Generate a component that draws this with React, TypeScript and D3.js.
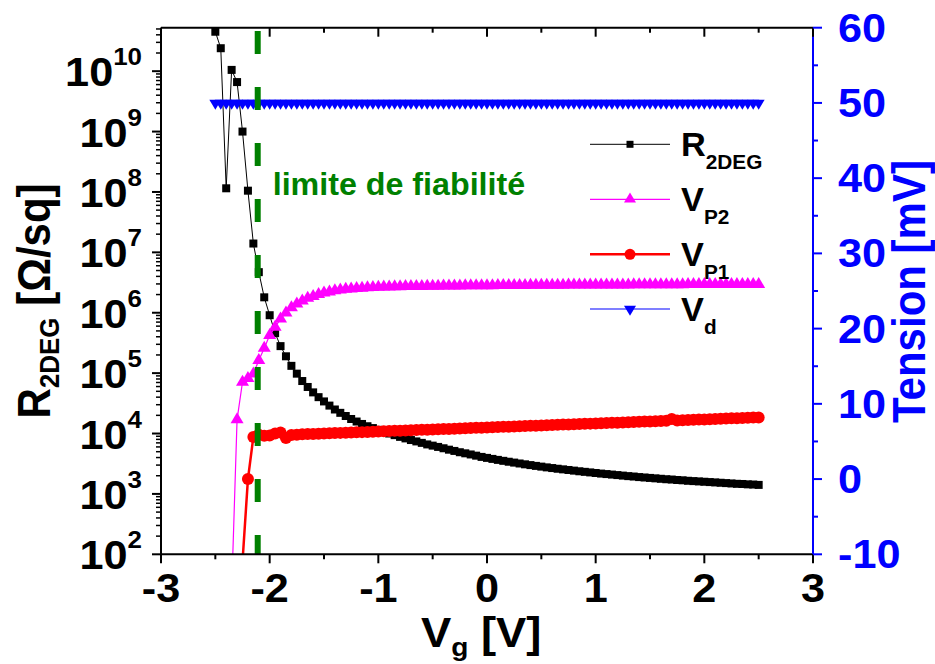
import React from 'react';
import * as d3 from 'd3';

// ---------------- DATA ----------------
const VG = [-2.5, -2.45, -2.4, -2.35, -2.3, -2.25, -2.2, -2.15, -2.1, -2.05, -2, -1.95, -1.9, -1.85, -1.8, -1.75, -1.7, -1.65, -1.6, -1.55, -1.5, -1.45, -1.4, -1.35, -1.3, -1.25, -1.2, -1.15, -1.1, -1.05, -1, -0.95, -0.9, -0.85, -0.8, -0.75, -0.7, -0.65, -0.6, -0.55, -0.5, -0.45, -0.4, -0.35, -0.3, -0.25, -0.2, -0.15, -0.1, -0.05, 0, 0.05, 0.1, 0.15, 0.2, 0.25, 0.3, 0.35, 0.4, 0.45, 0.5, 0.55, 0.6, 0.65, 0.7, 0.75, 0.8, 0.85, 0.9, 0.95, 1, 1.05, 1.1, 1.15, 1.2, 1.25, 1.3, 1.35, 1.4, 1.45, 1.5, 1.55, 1.6, 1.65, 1.7, 1.75, 1.8, 1.85, 1.9, 1.95, 2, 2.05, 2.1, 2.15, 2.2, 2.25, 2.3, 2.35, 2.4, 2.45, 2.5];

const R2DEG = [4.5e10, 2.4e10, 1.15e8, 1.05e10, 6.6e9, 1.0e9, 1.05e8, 1.4e7, 4.7e6, 1.8e6, 9.1e5, 4.6e5, 2.8e5, 1.9e5, 1.32e5, 9.8e4, 7.4e4, 5.9e4, 4.8e4, 4.0e4, 3.4e4, 2.9e4, 2.5e4, 2.2e4, 1.95e4, 1.74e4, 1.58e4, 1.44e4, 1.32e4, 1.23e4, 1.15e4, 1.07e4, 1.0e4, 9.4e3, 8.8e3, 8.3e3, 7.8e3, 7.4e3, 7.0e3, 6.6e3, 6.3e3, 6.0e3, 5.7e3, 5.4e3, 5.15e3, 4.9e3, 4.7e3, 4.5e3, 4.3e3, 4.1e3, 3.95e3, 3.8e3, 3.66e3, 3.53e3, 3.41e3, 3.3e3, 3.19e3, 3.09e3, 3.0e3, 2.91e3, 2.83e3, 2.75e3, 2.68e3, 2.61e3, 2.55e3, 2.49e3, 2.43e3, 2.37e3, 2.32e3, 2.27e3, 2.22e3, 2.17e3, 2.13e3, 2.09e3, 2.05e3, 2.01e3, 1.97e3, 1.94e3, 1.9e3, 1.87e3, 1.84e3, 1.81e3, 1.78e3, 1.75e3, 1.73e3, 1.7e3, 1.68e3, 1.65e3, 1.63e3, 1.61e3, 1.59e3, 1.57e3, 1.55e3, 1.53e3, 1.51e3, 1.49e3, 1.47e3, 1.46e3, 1.44e3, 1.43e3, 1.41e3];

const VP2 = [null, null, null, -15, 7.9, 12.9, 13.4, 14.0, 15.8, 17.4, 19.1, 20.2, 21.3, 22.1, 22.8, 23.3, 23.7, 24.05, 24.3, 24.55, 24.75, 24.9, 25.05, 25.15, 25.25, 25.3, 25.35, 25.4, 25.45, 25.5, 25.52,
  25.55, 25.57, 25.58, 25.6, 25.61, 25.62, 25.63, 25.64, 25.65, 25.66, 25.67, 25.68, 25.69, 25.7, 25.7, 25.71, 25.72, 25.72, 25.73,
  25.74, 25.74, 25.75, 25.75, 25.76, 25.76, 25.77, 25.77, 25.78, 25.78, 25.79, 25.79, 25.8, 25.8, 25.8, 25.81, 25.81, 25.81, 25.82, 25.82, 25.82, 25.83, 25.83, 25.83, 25.84, 25.84, 25.84, 25.85, 25.85, 25.85, 25.86,
  25.86, 25.86, 25.87, 25.87, 25.87, 25.87, 25.88, 25.88, 25.88, 25.88, 25.89, 25.89, 25.89, 25.89, 25.9, 25.9, 25.9, 25.9, 25.9, 25.9];

const VP1 = [null, null, null, null, null, -11, 0.0, 5.6, 5.9, 5.75, 5.8, 6.05, 6.2, 5.45, 5.85, 5.9, 5.95,
  5.98, 6.00, 6.03, 6.06, 6.08, 6.11, 6.14, 6.16, 6.19, 6.22,
  6.24, 6.27, 6.30, 6.33, 6.35, 6.38, 6.41, 6.43, 6.46, 6.49,
  6.51, 6.54, 6.57, 6.59, 6.62, 6.65, 6.67, 6.70, 6.73, 6.75,
  6.78, 6.81, 6.83, 6.86, 6.89, 6.91, 6.94, 6.97, 6.99, 7.02,
  7.05, 7.08, 7.10, 7.13, 7.16, 7.18, 7.21, 7.24, 7.26, 7.29,
  7.32, 7.34, 7.37, 7.40, 7.42, 7.45, 7.48, 7.50, 7.53, 7.56,
  7.58, 7.61, 7.64, 7.66, 7.69, 7.72, 7.74, 7.97, 7.80, 7.83,
  7.85, 7.88, 7.91, 7.93, 7.96, 7.99, 8.01, 8.04, 8.07, 8.09,
  8.12, 8.15, 8.17, 8.20];

const VD = [50, 50, 50, 50, 50, 50, 50, 50, 50, 50, 50, 50, 50, 50, 50, 50, 50, 50, 50, 50, 50, 50, 50, 50, 50, 50, 50, 50, 50, 50, 50, 50, 50, 50, 50, 50, 50, 50, 50, 50, 50, 50, 50, 50, 50, 50, 50, 50, 50, 50, 50, 50, 50, 50, 50, 50, 50, 50, 50, 50, 50, 50, 50, 50, 50, 50, 50, 50, 50, 50, 50, 50, 50, 50, 50, 50, 50, 50, 50, 50, 50, 50, 50, 50, 50, 50, 50, 50, 50, 50, 50, 50, 50, 50, 50, 50, 50, 50, 50, 50, 50];

const X_TICKS = [-3, -2, -1, 0, 1, 2, 3];
const X_MINOR = [-2.5, -1.5, -0.5, 0.5, 1.5, 2.5];
const LEFT_EXP = [2, 3, 4, 5, 6, 7, 8, 9, 10];
const RIGHT_TICKS = [-10, 0, 10, 20, 30, 40, 50, 60];
const RIGHT_MINOR = [-5, 5, 15, 25, 35, 45, 55];
const LIMIT_X = -2.11;
const LIMIT_LABEL = 'limite de fiabilité';
const LEGEND_MAIN = ['R', 'V', 'V', 'V'];
const LEGEND_SUB = ['2DEG', 'P2', 'P1', 'd'];

// ---------------- LAYOUT ----------------
const W = 935, H = 664;
const L = 161, R = 813, TOP = 27.7, BOT = 554.3;
const SX = 1.08;
const FONT = 'Liberation Sans, Arial, sans-serif';

const x = d3.scaleLinear().domain([-3, 3]).range([L, R]);
const yL = d3.scaleLog().domain([1e2, Math.pow(10, 10.72)]).range([BOT, TOP]);
const yR = d3.scaleLinear().domain([-10, 60]).range([BOT, TOP]);

const MAGENTA = '#ff00ff';
const RED = '#ff0000';
const BLUE = '#0000ff';
const GREEN = '#008000';

type TP = { x: number; y: number; size: number; fill?: string; anchor?: string; rot?: boolean; sx?: number; children?: any };
function T({ x, y, size, fill = '#000', anchor = 'start', rot = false, sx = SX, children }: TP) {
  return (
    <text
      transform={`translate(${x},${y}) scale(${sx},1)${rot ? ' rotate(-90)' : ''}`}
      fontSize={size}
      fill={fill}
      textAnchor={anchor as any}
      fontWeight="bold"
      fontFamily={FONT}
    >
      {children}
    </text>
  );
}

const upTri = 'M0,-7.3L6.5,3.7L-6.5,3.7Z';
const downTri = 'M-6,-3.3L6,-3.3L0,6.7Z';
const legUpTri = 'M0,-6.7L6,3.3L-6,3.3Z';

export default function App() {
  const pts = (ys: (number | null)[], sc: any) =>
    VG.map((v, i) => [v, ys[i]] as [number, number | null]).filter((d) => d[1] != null).map((d) => [x(d[0]), sc(d[1])] as [number, number]);

  const line = d3.line<[number, number]>().x((d) => d[0]).y((d) => d[1]);

  const rPts = pts(R2DEG, yL);
  const p2Pts = pts(VP2, yR);
  const p1Pts = pts(VP1, yR);
  const dPts = pts(VD, yR);

  const leftMinor: number[] = [];
  LEFT_EXP.forEach((e) => {
    for (let m = 2; m <= 9; m++) {
      const v = m * Math.pow(10, e);
      if (v <= yL.domain()[1]) leftMinor.push(v);
    }
  });

  const legendRows = [144.3, 199.3, 254.3, 309];

  return (
    <svg width={W} height={H} style={{ position: 'absolute', left: 0, top: 0, background: '#fff' }}>
      <defs>
        <clipPath id="plot">
          <rect x={L} y={TOP - 10} width={R - L} height={BOT - TOP + 10} />
        </clipPath>
      </defs>
      <rect x={0} y={0} width={W} height={H} fill="#fff" />

      <g clipPath="url(#plot)">
        {/* R2DEG */}
        <path d={line(rPts) || ''} fill="none" stroke="#000" strokeWidth={1} />
        {rPts.map((p, i) => (
          <rect key={'r' + i} x={p[0] - 4} y={p[1] - 4} width={8} height={8} fill="#000" />
        ))}
        {/* VP2 */}
        <path d={line(p2Pts) || ''} fill="none" stroke={MAGENTA} strokeWidth={1.2} />
        {p2Pts.map((p, i) => (
          <path key={'p2' + i} d={upTri} transform={`translate(${p[0]},${p[1]})`} fill={MAGENTA} />
        ))}
        {/* VP1 */}
        <path d={line(p1Pts) || ''} fill="none" stroke={RED} strokeWidth={2.5} />
        {p1Pts.map((p, i) => (
          <circle key={'p1' + i} cx={p[0]} cy={p[1]} r={6} fill={RED} />
        ))}
        {/* Vd */}
        <path d={line(dPts) || ''} fill="none" stroke={BLUE} strokeWidth={1.2} />
        {dPts.map((p, i) => (
          <path key={'d' + i} d={downTri} transform={`translate(${p[0]},${p[1]})`} fill={BLUE} />
        ))}
        {/* limit line */}
        <line x1={x(LIMIT_X)} x2={x(LIMIT_X)} y1={TOP} y2={BOT} stroke={GREEN} strokeWidth={6} strokeDasharray="23 33" strokeDashoffset={52.7} />
      </g>

      <T x={272.7} y={195} size={31} fill={GREEN} sx={1.04}>{LIMIT_LABEL}</T>

      {/* Legend */}
      {legendRows.map((ly, i) => {
        const col = ['#000', MAGENTA, RED, BLUE][i];
        const lw = [1, 1.2, 2.5, 1.2][i];
        return (
          <g key={'lg' + i}>
            <line x1={590} x2={670} y1={ly} y2={ly} stroke={col} strokeWidth={lw} />
            {i === 0 && <rect x={630 - 3.5} y={ly - 3.5} width={7} height={7} fill="#000" />}
            {i === 1 && <path d={legUpTri} transform={`translate(630,${ly})`} fill={MAGENTA} />}
            {i === 2 && <circle cx={630} cy={ly} r={5.5} fill={RED} />}
            {i === 3 && <path d={downTri} transform={`translate(630,${ly})`} fill={BLUE} />}
            <T x={681} y={ly + 12} size={33} sx={1.04}>
              <tspan>{LEGEND_MAIN[i]}</tspan>
              <tspan fontSize={20} dy={13}>{LEGEND_SUB[i]}</tspan>
            </T>
          </g>
        );
      })}

      {/* Axes */}
      <line x1={L} x2={R} y1={BOT} y2={BOT} stroke="#000" strokeWidth={2} />
      <line x1={L} x2={R} y1={TOP} y2={TOP} stroke="#000" strokeWidth={2} />
      <line x1={L} x2={L} y1={TOP} y2={BOT} stroke="#000" strokeWidth={2} />
      <line x1={R} x2={R} y1={TOP} y2={BOT} stroke={BLUE} strokeWidth={2} />

      {/* bottom & top ticks */}
      {X_TICKS.map((t) => (
        <g key={'xt' + t}>
          <line x1={x(t)} x2={x(t)} y1={BOT} y2={BOT + 9} stroke="#000" strokeWidth={2} />
          <line x1={x(t)} x2={x(t)} y1={TOP} y2={TOP + 9} stroke="#000" strokeWidth={2} />
          <T x={x(t)} y={602} size={40} anchor="middle">{t}</T>
        </g>
      ))}
      {X_MINOR.map((t) => (
        <g key={'xm' + t}>
          <line x1={x(t)} x2={x(t)} y1={BOT} y2={BOT + 5} stroke="#000" strokeWidth={2} />
          <line x1={x(t)} x2={x(t)} y1={TOP} y2={TOP + 5} stroke="#000" strokeWidth={2} />
        </g>
      ))}

      {/* left ticks */}
      {LEFT_EXP.map((e) => {
        const yy = yL(Math.pow(10, e));
        return (
          <g key={'ly' + e}>
            <line x1={L - 9} x2={L} y1={yy} y2={yy} stroke="#000" strokeWidth={2} />
            <T x={142} y={yy + 15} size={40} anchor="end">
              <tspan>10</tspan>
              <tspan fontSize={24} dy={-21}>{e}</tspan>
            </T>
          </g>
        );
      })}
      {leftMinor.map((v, i) => (
        <line key={'lm' + i} x1={L - 5} x2={L} y1={yL(v)} y2={yL(v)} stroke="#000" strokeWidth={1.5} />
      ))}

      {/* right ticks */}
      {RIGHT_TICKS.map((t) => (
        <g key={'ry' + t}>
          <line x1={R} x2={R + 9} y1={yR(t)} y2={yR(t)} stroke={BLUE} strokeWidth={2} />
          <T x={838} y={yR(t) + 14} size={40} fill={BLUE}>{t}</T>
        </g>
      ))}
      {RIGHT_MINOR.map((t) => (
        <line key={'rm' + t} x1={R} x2={R + 5} y1={yR(t)} y2={yR(t)} stroke={BLUE} strokeWidth={2} />
      ))}

      {/* axis titles */}
      <T x={421} y={647} size={42}>
        <tspan>V</tspan>
        <tspan fontSize={26} dy={9}>g</tspan>
        <tspan dy={-9}> [V]</tspan>
      </T>
      <T x={50} y={301} size={42} anchor="middle" rot>
        <tspan>R</tspan>
        <tspan fontSize={26} dy={8}>2DEG</tspan>
        <tspan dy={-8}> [Ω/sq]</tspan>
      </T>
      <T x={925} y={291.5} size={42} anchor="middle" rot fill={BLUE}>Tension [mV]</T>
    </svg>
  );
}
